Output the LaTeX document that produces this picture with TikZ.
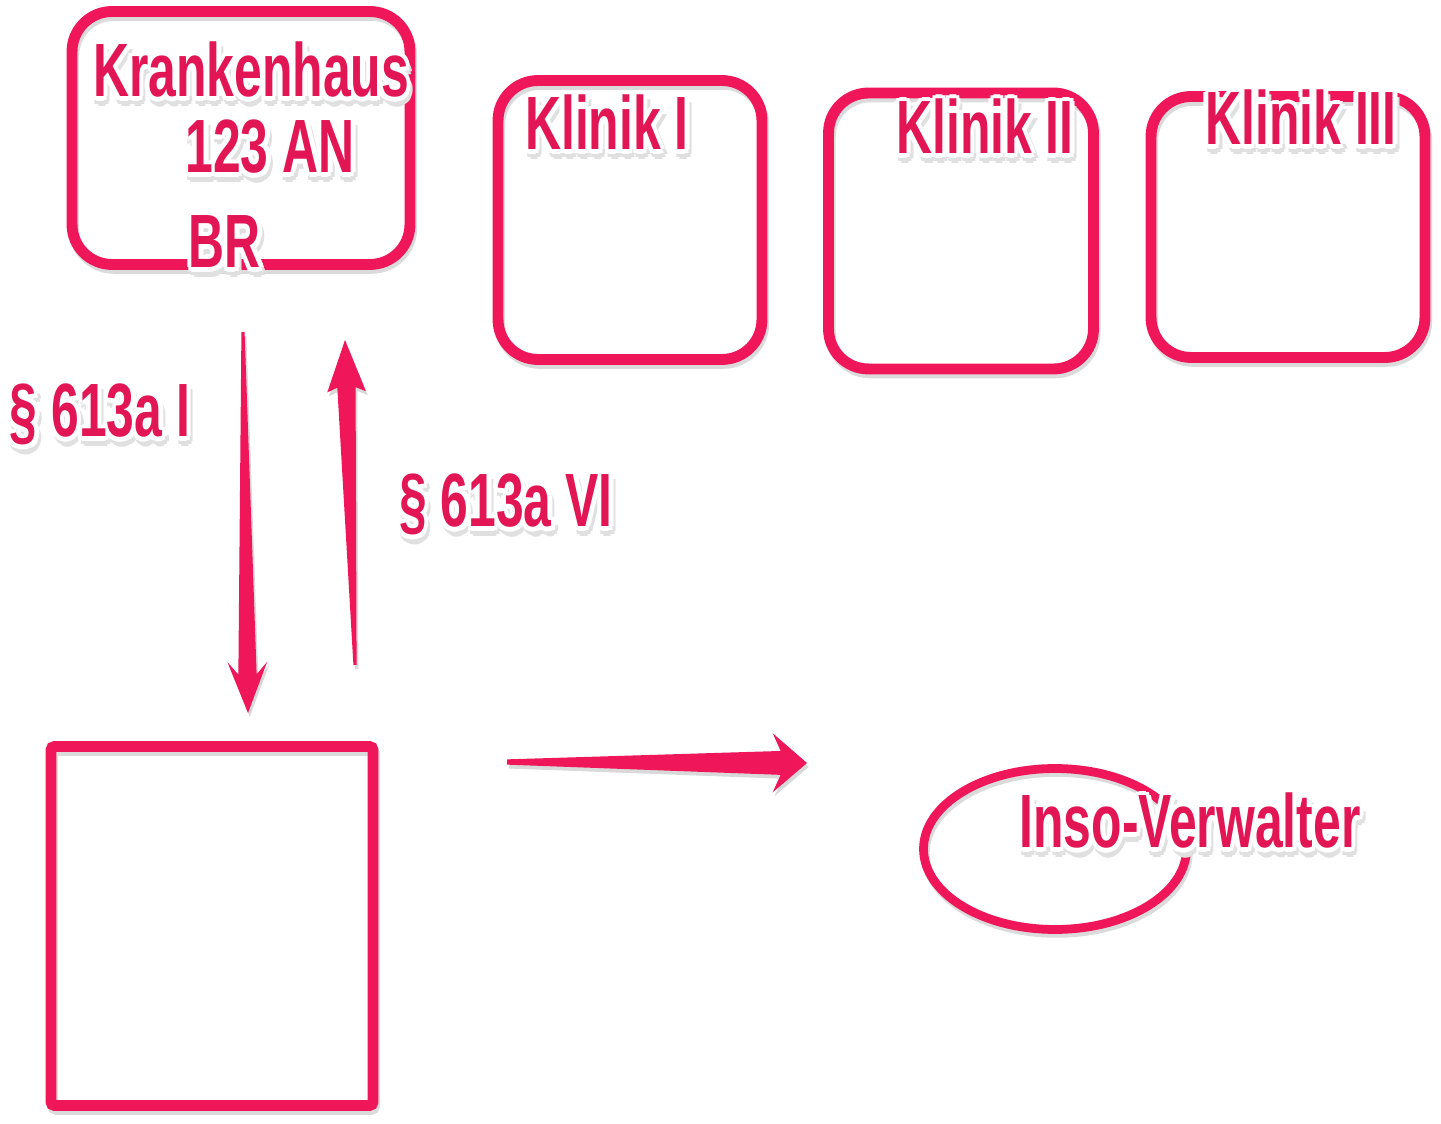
\documentclass[tikz,border=0pt]{standalone}
\usepackage{fontspec}
\newfontfamily\labfont{Liberation Sans Bold}[FakeStretch=0.66]
\usetikzlibrary{calc,shapes.geometric}
\definecolor{skpink}{RGB}{240,22,90}
\definecolor{sktext}{RGB}{226,22,84}
\newsavebox\labbox
\newcommand\hw[3]{\makebox[0pt][l]{\hspace*{#1}\raisebox{#2}{\color{#3}\copy\labbox}}}
\newcommand\halo[1]{\setbox\labbox\hbox{#1}%
 \hw{3.8pt}{-2.6pt}{black!12}\hw{3.0pt}{-4.4pt}{black!12}\hw{1.2pt}{-5.2pt}{black!12}\hw{-0.6pt}{-4.4pt}{black!12}%
 \hw{2.6pt}{0pt}{white}\hw{-2.6pt}{0pt}{white}\hw{0pt}{2.6pt}{white}\hw{0pt}{-2.6pt}{white}%
 \hw{1.84pt}{1.84pt}{white}\hw{-1.84pt}{1.84pt}{white}\hw{1.84pt}{-1.84pt}{white}\hw{-1.84pt}{-1.84pt}{white}%
 \copy\labbox}
\newcommand\taper[7]{%
 \coordinate (tj) at ($(#2)!#4!(#1)$);
 \coordinate (tb) at ($(#2)!#6!(#1)$);
 \fill[arrowfill] ($(#1)!#3!90:(#2)$) -- ($(tj)!#5!90:(#2)$) -- ($(tb)!#7!90:(#2)$) -- (#2)
   -- ($(tb)!#7!-90:(#2)$) -- ($(tj)!#5!-90:(#2)$) -- ($(#1)!#3!-90:(#2)$) -- cycle;}
\tikzset{
 shad/.style={preaction={draw=black!14, transform canvas={shift={(1pt,-2.2pt)}}}},
 kbox/.style={draw=skpink, line width=6.2pt, rounded corners=0.8cm, shad, inner sep=0pt},
 sqbox/.style={draw=skpink, line width=6.2pt, rounded corners=2pt, shad, inner sep=0pt},
 ellbox/.style={ellipse, draw=skpink, line width=5pt, shad, inner sep=0pt},
 lab/.style={anchor=base, inner sep=0pt, text=sktext, font=\labfont\fontsize{43}{50}\selectfont},
 arrowfill/.style={fill=skpink, line join=round, preaction={fill=black!15, transform canvas={shift={(1pt,-2.2pt)}}}}
}
\begin{document}
\begin{tikzpicture}[x=0.02cm, y=-0.02cm]
\useasboundingbox (0,0) rectangle (1441,1124);
\fill[white] (0,0) rectangle (1441,1124);
% boxes
\node[kbox, minimum width=6.76cm, minimum height=5.06cm] (kh) at (241,138) {};
\node[kbox, minimum width=5.28cm, minimum height=5.58cm] (k1) at (630,220) {};
\node[kbox, minimum width=5.3cm, minimum height=5.52cm] (k2) at (961,231) {};
\node[kbox, minimum width=5.48cm, minimum height=5.22cm] (k3) at (1288,227) {};
\node[sqbox, minimum width=6.44cm, minimum height=7.18cm] (sq) at (212,926) {};
\node[ellbox, minimum width=5.26cm, minimum height=3.22cm] (ins) at (1055,849) {};
% arrows
\coordinate (dtail) at (243,332);
\coordinate (dtip) at (248,713);
\coordinate (utail) at (355,665);
\coordinate (utip) at (345,340);
\coordinate (htail) at (507,762);
\coordinate (htip) at (807,763);
\taper{dtail}{dtip}{0.9pt}{22pt}{5.2pt}{29pt}{11.3pt}
\taper{utail}{utip}{0.9pt}{27pt}{5.2pt}{29.5pt}{11pt}
\taper{htail}{htip}{1.5pt}{15pt}{6.8pt}{19.5pt}{16.8pt}
% labels
\node[lab] (tkh) at (251,97) {\halo{Krankenhaus}};
\node[lab] (tan) at (270,173) {\halo{123 AN}};
\node[lab] (tbr) at (225,268) {\halo{BR}};
\node[lab] (tk1) at (607,150) {\halo{Klinik I}};
\node[lab] (tk2) at (985,154) {\halo{Klinik II}};
\node[lab] (tk3) at (1301,145) {\halo{Klinik III}};
\node[lab] (tp1) at (100,437) {\halo{§ 613a I}};
\node[lab] (tp6) at (506,527) {\halo{§ 613a VI}};
\node[lab] (tins) at (1190,848) {\halo{Inso-Verwalter}};
\end{tikzpicture}
\end{document}
